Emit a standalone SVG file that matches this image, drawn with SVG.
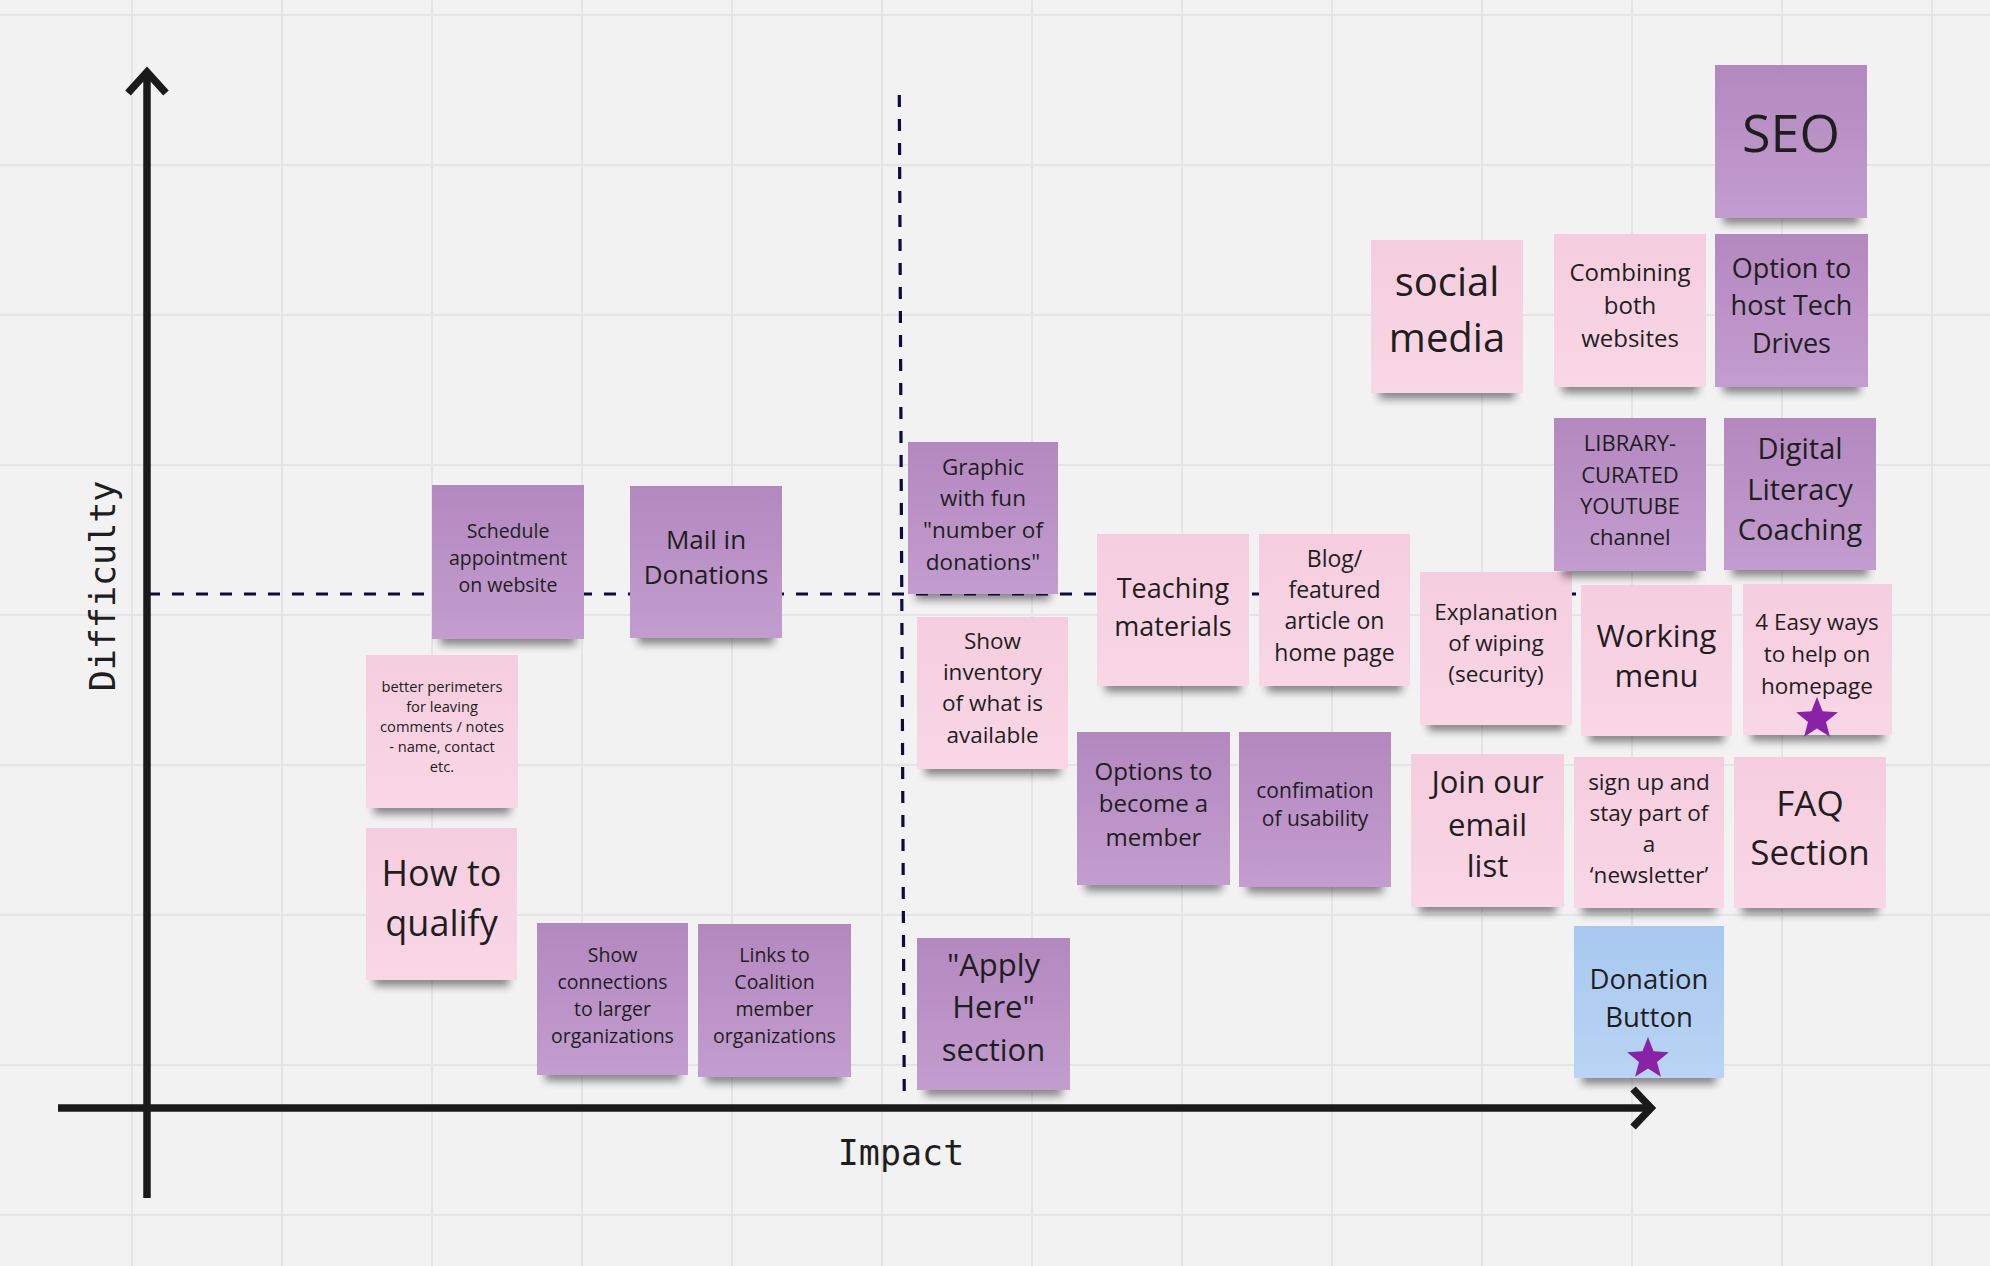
<svg xmlns="http://www.w3.org/2000/svg" width="1990" height="1266" viewBox="0 0 1990 1266">
<defs>
<pattern id="grid" patternUnits="userSpaceOnUse" x="131" y="14" width="150" height="150">
<rect width="2" height="150" fill="#e4e4e4"/><rect width="150" height="2" fill="#e4e4e4"/>
</pattern>
<linearGradient id="gPink" x1="0" y1="0" x2="0" y2="1"><stop offset="0" stop-color="#f5cddf"/><stop offset="1" stop-color="#f9d7e5"/></linearGradient>
<linearGradient id="gPurple" x1="0" y1="0" x2="0" y2="1"><stop offset="0" stop-color="#b388bf"/><stop offset="1" stop-color="#c39dcf"/></linearGradient>
<linearGradient id="gBlue" x1="0" y1="0" x2="0" y2="1"><stop offset="0" stop-color="#a8c8ef"/><stop offset="1" stop-color="#b9d4f4"/></linearGradient>
<filter id="blur" x="-20%" y="-100%" width="140%" height="300%"><feGaussianBlur stdDeviation="4"/></filter>
<path id="star" d="M0,-22L5.6,-7.7L20.9,-6.8L9,2.9L12.9,17.8L0,9.5L-12.9,17.8L-9,2.9L-20.9,-6.8L-5.6,-7.7Z" fill="#8a22a8"/>
</defs>
<style>
.sh{fill:#000;opacity:.45;filter:url(#blur)}
.pink{fill:url(#gPink)}
.purple{fill:url(#gPurple)}
.blue{fill:url(#gBlue)}
.t{font-family:"Open Sans","Noto Sans","Liberation Sans",sans-serif;fill:#1e1e1e;text-anchor:middle}
.ax{stroke:#1a1a1a;stroke-width:7.5;fill:none}
.dash{stroke:#0d0b3c;stroke-width:3.2;stroke-dasharray:12 12;fill:none}
.lbl{font-family:"DejaVu Sans Mono","Liberation Mono",monospace;font-size:35px;fill:#1e1e1e;text-anchor:middle}
</style>
<rect width="1990" height="1266" fill="#f2f2f2"/>
<rect width="1990" height="1266" fill="url(#grid)"/>

<g id="connectors">
<line class="dash" x1="148" y1="594" x2="1580" y2="594"/>
<line class="dash" x1="899.3" y1="95" x2="904.3" y2="1102"/>
<line class="ax" x1="147" y1="72" x2="147" y2="1198"/>
<polyline class="ax" points="128,93 147,72 166,93"/>
<line class="ax" x1="58" y1="1108" x2="1651" y2="1108"/>
<polyline class="ax" points="1633,1089 1651,1108 1633,1127"/>
</g>

<g id="label-difficulty"><text class="lbl" transform="translate(115,586) rotate(-90)">Difficulty</text></g>
<g id="label-impact"><text class="lbl" x="901" y="1165">Impact</text></g>

<g id="n-schedule"><rect class="sh" x="440" y="631" width="136" height="14"/><rect class="purple" x="432" y="485" width="152" height="154"/>
<text class="t" font-size="19.5"><tspan x="508" y="538">Schedule</tspan><tspan x="508" y="565">appointment</tspan><tspan x="508" y="592">on website</tspan></text></g>

<g id="n-mail"><rect class="sh" x="638" y="630" width="136" height="14"/><rect class="purple" x="630" y="486" width="152" height="152"/>
<text class="t" font-size="26"><tspan x="706" y="549">Mail in</tspan><tspan x="706" y="584">Donations</tspan></text></g>

<g id="n-better"><rect class="sh" x="374" y="800" width="136" height="14"/><rect class="pink" x="366" y="655" width="152" height="153"/>
<text class="t" font-size="14.7"><tspan x="442" y="692">better perimeters</tspan><tspan x="442" y="712">for leaving</tspan><tspan x="442" y="732">comments / notes</tspan><tspan x="442" y="752">- name, contact</tspan><tspan x="442" y="772">etc.</tspan></text></g>

<g id="n-howto"><rect class="sh" x="374" y="972" width="135" height="14"/><rect class="pink" x="366" y="828" width="151" height="152"/>
<text class="t" font-size="36"><tspan x="441.5" y="886">How to</tspan><tspan x="441.5" y="936">qualify</tspan></text></g>

<g id="n-showconn"><rect class="sh" x="545" y="1067" width="135" height="14"/><rect class="purple" x="537" y="923" width="151" height="152"/>
<text class="t" font-size="19.5"><tspan x="612.5" y="962">Show</tspan><tspan x="612.5" y="989">connections</tspan><tspan x="612.5" y="1016">to larger</tspan><tspan x="612.5" y="1043">organizations</tspan></text></g>

<g id="n-links"><rect class="sh" x="706" y="1069" width="137" height="14"/><rect class="purple" x="698" y="924" width="153" height="153"/>
<text class="t" font-size="19.5"><tspan x="774.5" y="962">Links to</tspan><tspan x="774.5" y="989">Coalition</tspan><tspan x="774.5" y="1016">member</tspan><tspan x="774.5" y="1043">organizations</tspan></text></g>

<g id="n-graphic"><rect class="sh" x="916" y="586" width="134" height="14"/><rect class="purple" x="908" y="442" width="150" height="152"/>
<text class="t" font-size="22.5"><tspan x="983" y="475">Graphic</tspan><tspan x="983" y="506">with fun</tspan><tspan x="983" y="538">"number of</tspan><tspan x="983" y="570">donations"</tspan></text></g>

<g id="n-inventory"><rect class="sh" x="925" y="761" width="135" height="14"/><rect class="pink" x="917" y="617" width="151" height="152"/>
<text class="t" font-size="22.5"><tspan x="992.5" y="649">Show</tspan><tspan x="992.5" y="680">inventory</tspan><tspan x="992.5" y="711">of what is</tspan><tspan x="992.5" y="743">available</tspan></text></g>

<g id="n-apply"><rect class="sh" x="925" y="1082" width="137" height="14"/><rect class="purple" x="917" y="938" width="153" height="152"/>
<text class="t" font-size="31"><tspan x="993.5" y="976">"Apply</tspan><tspan x="993.5" y="1018">Here"</tspan><tspan x="993.5" y="1061">section</tspan></text></g>

<g id="n-teaching"><rect class="sh" x="1105" y="678" width="136" height="14"/><rect class="pink" x="1097" y="534" width="152" height="152"/>
<text class="t" font-size="27"><tspan x="1173" y="598">Teaching</tspan><tspan x="1173" y="636">materials</tspan></text></g>

<g id="n-blog"><rect class="sh" x="1267" y="678" width="135" height="14"/><rect class="pink" x="1259" y="534" width="151" height="152"/>
<text class="t" font-size="23"><tspan x="1334.5" y="567">Blog/</tspan><tspan x="1334.5" y="598">featured</tspan><tspan x="1334.5" y="629">article on</tspan><tspan x="1334.5" y="661">home page</tspan></text></g>

<g id="n-explanation"><rect class="sh" x="1428" y="717" width="136" height="14"/><rect class="pink" x="1420" y="572" width="152" height="153"/>
<text class="t" font-size="22.5"><tspan x="1496" y="620">Explanation</tspan><tspan x="1496" y="651">of wiping</tspan><tspan x="1496" y="682">(security)</tspan></text></g>

<g id="n-working"><rect class="sh" x="1589" y="728" width="135" height="14"/><rect class="pink" x="1581" y="585" width="151" height="151"/>
<text class="t" font-size="31"><tspan x="1656.5" y="647">Working</tspan><tspan x="1656.5" y="687">menu</tspan></text></g>

<g id="n-easy"><rect class="sh" x="1751" y="727" width="133" height="14"/><rect class="pink" x="1743" y="584" width="149" height="151"/>
<text class="t" font-size="22.5"><tspan x="1817" y="630">4 Easy ways</tspan><tspan x="1817" y="662">to help on</tspan><tspan x="1817" y="694">homepage</tspan></text>
<use href="#star" x="1817" y="719"/></g>

<g id="n-social"><rect class="sh" x="1379" y="385" width="136" height="14"/><rect class="pink" x="1371" y="240" width="152" height="153"/>
<text class="t" font-size="40"><tspan x="1447" y="296">social</tspan><tspan x="1447" y="352">media</tspan></text></g>

<g id="n-combining"><rect class="sh" x="1562" y="379" width="136" height="14"/><rect class="pink" x="1554" y="234" width="152" height="153"/>
<text class="t" font-size="24"><tspan x="1630" y="281">Combining</tspan><tspan x="1630" y="314">both</tspan><tspan x="1630" y="347">websites</tspan></text></g>

<g id="n-seo"><rect class="sh" x="1723" y="210" width="136" height="14"/><rect class="purple" x="1715" y="65" width="152" height="153"/>
<text class="t" font-size="52"><tspan x="1791" y="152">SEO</tspan></text></g>

<g id="n-option"><rect class="sh" x="1723" y="379" width="137" height="14"/><rect class="purple" x="1715" y="234" width="153" height="153"/>
<text class="t" font-size="27"><tspan x="1791.5" y="278">Option to</tspan><tspan x="1791.5" y="315">host Tech</tspan><tspan x="1791.5" y="353">Drives</tspan></text></g>

<g id="n-library"><rect class="sh" x="1562" y="563" width="136" height="14"/><rect class="purple" x="1554" y="418" width="152" height="153"/>
<text class="t" font-size="22"><tspan x="1630" y="451">LIBRARY-</tspan><tspan x="1630" y="483">CURATED</tspan><tspan x="1630" y="514">YOUTUBE</tspan><tspan x="1630" y="545">channel</tspan></text></g>

<g id="n-digital"><rect class="sh" x="1732" y="562" width="136" height="14"/><rect class="purple" x="1724" y="418" width="152" height="152"/>
<text class="t" font-size="29"><tspan x="1800" y="459">Digital</tspan><tspan x="1800" y="500">Literacy</tspan><tspan x="1800" y="540">Coaching</tspan></text></g>

<g id="n-member"><rect class="sh" x="1085" y="877" width="137" height="14"/><rect class="purple" x="1077" y="732" width="153" height="153"/>
<text class="t" font-size="24"><tspan x="1153.5" y="780">Options to</tspan><tspan x="1153.5" y="812">become a</tspan><tspan x="1153.5" y="846">member</tspan></text></g>

<g id="n-confimation"><rect class="sh" x="1247" y="879" width="136" height="14"/><rect class="purple" x="1239" y="732" width="152" height="155"/>
<text class="t" font-size="21"><tspan x="1315" y="798">confimation</tspan><tspan x="1315" y="826">of usability</tspan></text></g>

<g id="n-join"><rect class="sh" x="1419" y="899" width="137" height="14"/><rect class="pink" x="1411" y="754" width="153" height="153"/>
<text class="t" font-size="31"><tspan x="1487.5" y="793">Join our</tspan><tspan x="1487.5" y="836">email</tspan><tspan x="1487.5" y="877">list</tspan></text></g>

<g id="n-signup"><rect class="sh" x="1582" y="900" width="134" height="14"/><rect class="pink" x="1574" y="757" width="150" height="151"/>
<text class="t" font-size="22.5"><tspan x="1649" y="790">sign up and</tspan><tspan x="1649" y="821">stay part of</tspan><tspan x="1649" y="852">a</tspan><tspan x="1649" y="883">‘newsletter’</tspan></text></g>

<g id="n-faq"><rect class="sh" x="1742" y="900" width="136" height="14"/><rect class="pink" x="1734" y="757" width="152" height="151"/>
<text class="t" font-size="35"><tspan x="1810" y="816">FAQ</tspan><tspan x="1810" y="865">Section</tspan></text></g>

<g id="n-donation"><rect class="sh" x="1582" y="1070" width="134" height="14"/><rect class="blue" x="1574" y="926" width="150" height="152"/>
<text class="t" font-size="27.5"><tspan x="1649" y="989">Donation</tspan><tspan x="1649" y="1027">Button</tspan></text>
<use href="#star" x="1648" y="1059"/></g>
</svg>
